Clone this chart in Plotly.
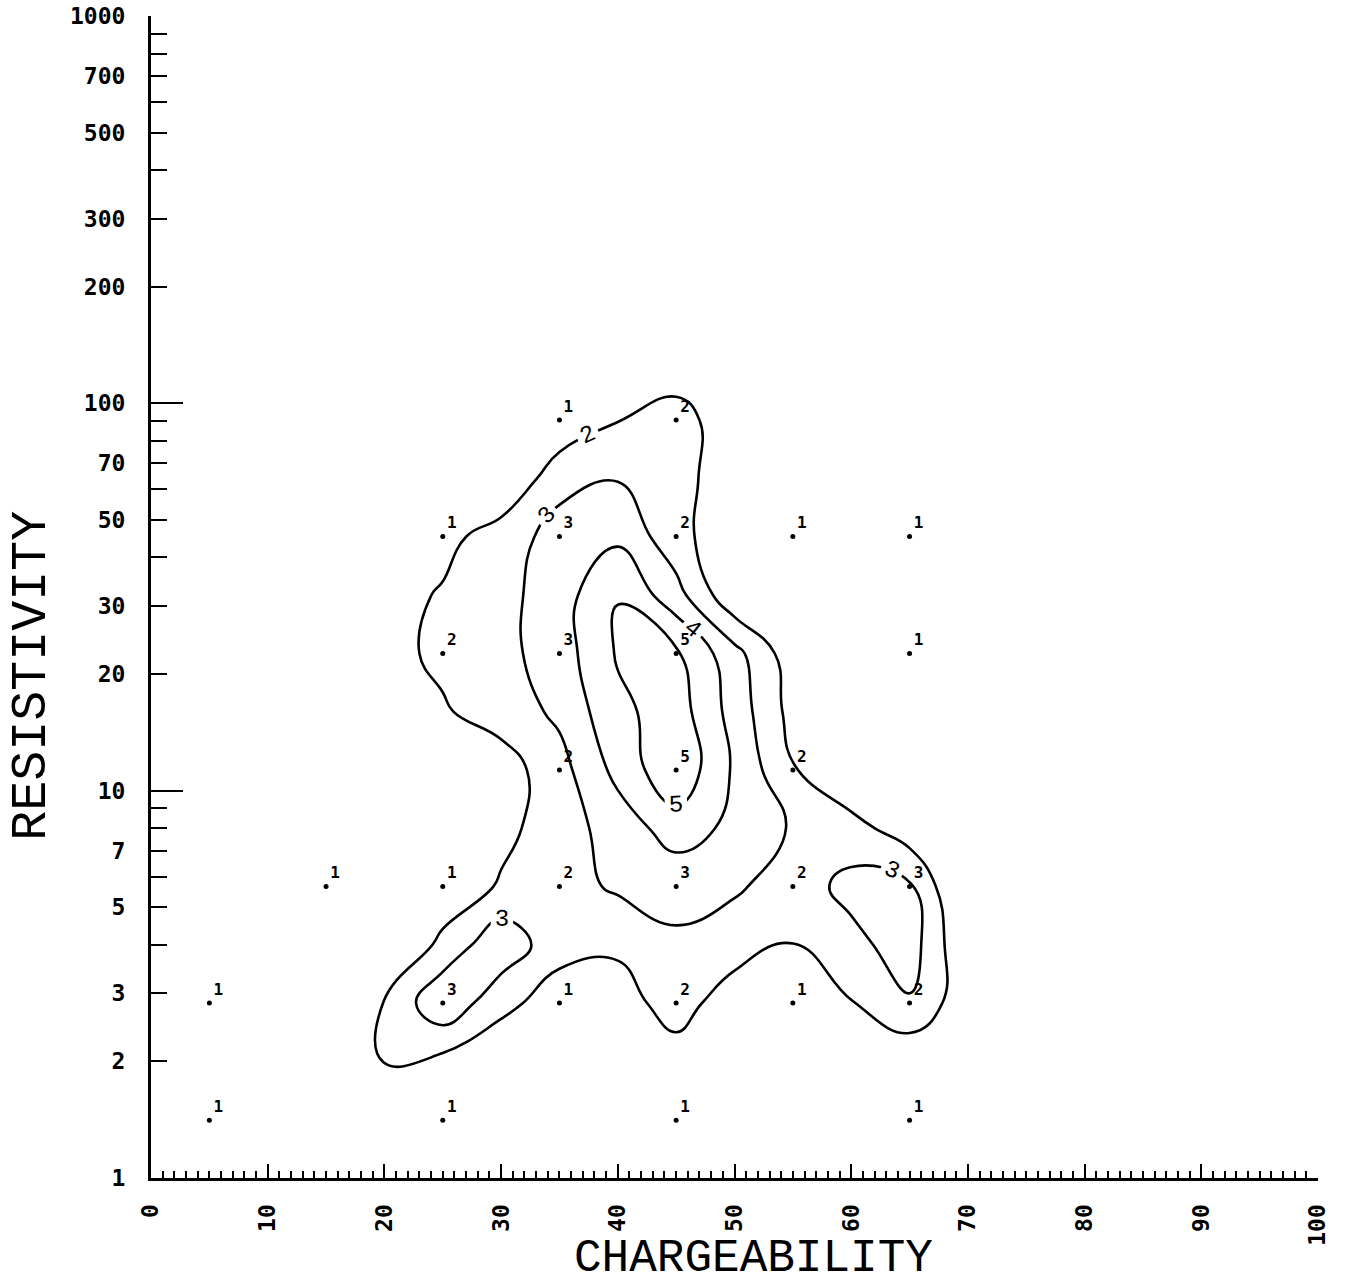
import plotly.graph_objects as go

# ---- binned sample counts (chargeability %, resistivity ohm-m) ----
pt_charge = [5, 25, 45, 65,
             5, 25, 35, 45, 55, 65,
             15, 25, 35, 45, 55, 65,
             35, 45, 55,
             25, 35, 45, 65,
             25, 35, 45, 55, 65,
             35, 45]
pt_resist = [1.41, 1.41, 1.41, 1.41,
             2.83, 2.83, 2.83, 2.83, 2.83, 2.83,
             5.66, 5.66, 5.66, 5.66, 5.66, 5.66,
             11.3, 11.3, 11.3,
             22.6, 22.6, 22.6, 22.6,
             45.3, 45.3, 45.3, 45.3, 45.3,
             90.5, 90.5]
pt_count = [1, 1, 1, 1,
            1, 3, 1, 2, 1, 2,
            1, 1, 2, 3, 2, 3,
            2, 5, 2,
            2, 3, 5, 1,
            1, 3, 2, 1, 1,
            1, 2]

# ---- smoothed frequency surface used for the contours ----
grid_charge = [10, 15, 20, 25, 30, 35, 40, 45, 50, 55, 60, 65, 70, 75]
grid_resist = [1.41, 2, 2.83, 4, 5.66, 8, 11.3, 16, 22.6, 32, 45.25, 64, 90.5, 128]
freq_1_41 = [0.3, 0.4, 0.5, 0.8, 0.6, 0.4, 0.6, 0.8, 0.6, 0.4, 0.5, 0.6, 0.3, 0.1]
freq_2_00 = [0.3, 0.5, 2.05, 1.7, 1.2, 0.9, 1.2, 1.6, 1.2, 0.9, 1.3, 1.15, 0.7, 0.2]
freq_2_83 = [0.3, 0.6, 2.05, 3.8, 2.3, 1.5, 1.6, 2.4, 1.5, 1.4, 1.95, 2.9, 1.3, 0.3]
freq_4_00 = [0.2, 0.4, 0.6, 2.3, 3.7, 2.35, 2.15, 2.85, 2.4, 1.95, 2.7, 3.5, 1.0, 0.3]
freq_5_66 = [0.2, 0.5, 0.9, 1.2, 2.12, 2.6, 3.15, 3.3, 3.15, 2.5, 3.3, 3.15, 0.6, 0.2]
freq_8_00 = [0.1, 0.3, 0.5, 1.0, 1.7, 2.55, 3.43, 4.5, 3.75, 2.9, 2.4, 1.4, 0.8, 0.3]
freq_11_3 = [0.1, 0.3, 0.5, 0.9, 1.5, 2.63, 4.3, 5.8, 3.85, 2.07, 1.0, 0.9, 0.5, 0.2]
freq_16_0 = [0.2, 0.6, 1.15, 1.9, 2.45, 3.2, 4.75, 5.5, 3.6, 1.65, 1.0, 0.7, 0.3, 0.1]
freq_22_6 = [0.6, 1.2, 1.7, 2.2, 2.7, 3.5, 5.1, 5.15, 3.34, 1.4, 0.8, 0.6, 0.3, 0.1]
freq_32_0 = [0.4, 1.0, 1.5, 2.12, 2.67, 3.54, 4.98, 3.37, 1.2, 0.8, 0.5, 0.5, 0.2, 0.1]
freq_45_3 = [0.2, 0.4, 0.8, 1.6, 2.6, 3.3, 3.8, 2.37, 1.2, 0.7, 0.5, 0.4, 0.2, 0.1]
freq_64_0 = [0.1, 0.1, 0.2, 0.5, 0.8, 2.75, 2.95, 2.45, 1.27, 0.7, 0.4, 0.3, 0.1, 0.0]
freq_90_5 = [0.0, 0.1, 0.1, 0.2, 0.4, 1.1, 1.97, 2.4, 1.4, 0.7, 0.4, 0.3, 0.1, 0.0]
freq_128 = [0.0, 0.0, 0.1, 0.2, 0.4, 0.7, 1.2, 1.4, 1.0, 0.5, 0.3, 0.2, 0.1, 0.0]
freq_rows = [freq_1_41, freq_2_00, freq_2_83, freq_4_00, freq_5_66, freq_8_00,
             freq_11_3, freq_16_0, freq_22_6, freq_32_0, freq_45_3, freq_64_0,
             freq_90_5, freq_128]
contour_levels = (2, 5, 1)

# ---- axis ticks ----
x_major = [0, 10, 20, 30, 40, 50, 60, 70, 80, 90, 100]
y_labelled = [1, 2, 3, 5, 7, 10, 20, 30, 50, 70, 100, 200, 300, 500, 700, 1000]
y_minor = [4, 6, 8, 9, 40, 60, 80, 90, 400, 600, 800, 900]
y_decades = [10, 100, 1000]

TICK_FONT = dict(family="DejaVu Sans Mono", size=23, color="black", weight="bold")

fig = go.Figure()

fig.add_trace(go.Contour(
    x=grid_charge, y=grid_resist, z=freq_rows,
    autocontour=False,
    contours=dict(start=contour_levels[0], end=contour_levels[1], size=contour_levels[2],
                  coloring="none", showlabels=True,
                  labelfont=dict(family="Liberation Mono", size=24, color="black")),
    line=dict(color="black", width=2.6, smoothing=1.3),
    showscale=False, hoverinfo="skip",
))

fig.add_trace(go.Scatter(
    x=pt_charge, y=pt_resist,
    mode="markers+text",
    marker=dict(size=5, color="black"),
    text=[str(n) for n in pt_count],
    textposition="top right",
    textfont=dict(family="DejaVu Sans Mono", size=16, color="black", weight="bold"),
    hoverinfo="skip", showlegend=False,
))

# invisible companion so the long decade ticks axis is drawn
fig.add_trace(go.Scatter(
    x=pt_charge, y=pt_resist, yaxis="y2", mode="markers",
    marker=dict(size=1, opacity=0), hoverinfo="skip", showlegend=False,
))

fig.update_layout(
    width=1345, height=1288, autosize=False,
    margin=dict(l=151, r=27, t=16, b=110, autoexpand=False),
    paper_bgcolor="white", plot_bgcolor="white",
    showlegend=False, hovermode=False,
    xaxis=dict(
        range=[0, 100], tickmode="array", tickvals=x_major,
        ticktext=[str(v) for v in x_major],
        ticks="inside", ticklen=14, tickwidth=2, tickcolor="black",
        minor=dict(dtick=1, tick0=0, ticks="inside", ticklen=7, tickwidth=1.5,
                   tickcolor="black", showgrid=False),
        tickangle=-90, tickfont=TICK_FONT, ticklabelstandoff=14,
        showline=True, linecolor="black", linewidth=3,
        showgrid=False, zeroline=False, mirror=False, automargin=False,
    ),
    yaxis=dict(
        type="log", range=[0, 3],
        tickmode="array", tickvals=y_labelled,
        ticktext=[str(v) for v in y_labelled],
        ticks="inside", ticklen=16, tickwidth=2, tickcolor="black",
        minor=dict(tickmode="array", tickvals=y_minor, ticks="inside", ticklen=16,
                   tickwidth=2, tickcolor="black", showgrid=False),
        tickfont=TICK_FONT, ticklabelstandoff=18,
        showline=True, linecolor="black", linewidth=3,
        showgrid=False, zeroline=False, mirror=False, automargin=False,
    ),
    yaxis2=dict(
        type="log", range=[0, 3], overlaying="y", anchor="x", side="left",
        tickmode="array", tickvals=y_decades, ticks="inside", ticklen=32,
        tickwidth=2, tickcolor="black", showticklabels=False,
        showline=False, showgrid=False, zeroline=False, automargin=False,
    ),
    annotations=[
        dict(text="CHARGEABILITY", xref="paper", yref="paper", x=0.516, y=-0.0697,
             xanchor="center", yanchor="middle", showarrow=False,
             font=dict(family="Liberation Mono", size=46, color="black")),
        dict(text="RESISTIVITY", xref="paper", yref="paper", x=-0.103, y=0.432,
             xanchor="center", yanchor="middle", textangle=-90, showarrow=False,
             font=dict(family="Liberation Mono", size=50, color="black")),
    ],
)

fig.write_html("out.html")
